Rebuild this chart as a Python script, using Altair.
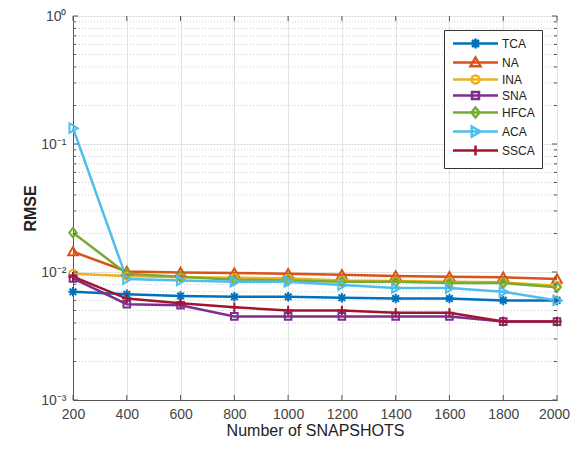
import altair as alt
import pandas as pd

snapshots = [200, 400, 600, 800, 1000, 1200, 1400, 1600, 1800, 2000]
series_names = ["TCA", "NA", "INA", "SNA", "HFCA", "ACA", "SSCA"]
TCA = [0.0070, 0.0067, 0.0065, 0.0064, 0.0064, 0.0063, 0.0062, 0.0062, 0.0060, 0.0060]
NA = [0.0144, 0.0101, 0.0099, 0.0098, 0.0097, 0.0095, 0.0093, 0.0092, 0.0091, 0.0088]
INA = [0.0097, 0.0093, 0.0091, 0.0090, 0.0089, 0.0086, 0.0085, 0.0084, 0.0083, 0.0078]
SNA = [0.0089, 0.0056, 0.0055, 0.0045, 0.0045, 0.0045, 0.0045, 0.0045, 0.0041, 0.0041]
HFCA = [0.0203, 0.0097, 0.0092, 0.0087, 0.0086, 0.0084, 0.0084, 0.0082, 0.0082, 0.0076]
ACA = [0.133, 0.0088, 0.0086, 0.0084, 0.0084, 0.0079, 0.0075, 0.0075, 0.0070, 0.0060]
SSCA = [0.0092, 0.0062, 0.0057, 0.0053, 0.0050, 0.0050, 0.0048, 0.0048, 0.0041, 0.0041]
x_ticks = [200, 400, 600, 800, 1000, 1200, 1400, 1600, 1800, 2000]
y_major = [0.001, 0.01, 0.1, 1]
y_minor = [m * 10.0 ** e for e in (-3, -2, -1) for m in range(2, 10)]

colors = ["#0072BD", "#D95319", "#EDB120", "#7E2F8E", "#77AC30", "#4DBEEE", "#A2142F"]
marker_paths = [
    "M-1,0L1,0M0,-1L0,1M-0.7,-0.7L0.7,0.7M-0.7,0.7L0.7,-0.7",
    "M0,-1L1,0.75L-1,0.75Z",
    "M0.8,0A0.8,0.8,0,1,1,-0.8,0A0.8,0.8,0,1,1,0.8,0Z",
    "M-0.7,-0.7L0.7,-0.7L0.7,0.7L-0.7,0.7Z",
    "M0,-1L0.8,0L0,1L-0.8,0Z",
    "M-0.75,-1L1,0L-0.75,1Z",
    "M-1,0L1,0M0,-1L0,1",
]
legend_paths = ["M-4.5,0L4.5,0" + p for p in marker_paths]

all_vals = [TCA, NA, INA, SNA, HFCA, ACA, SSCA]
rows = []
for name, vals in zip(series_names, all_vals):
    for s, v in zip(snapshots, vals):
        rows.append({"snapshots": s, "rmse": v, "series": name})
df = pd.DataFrame(rows)

W, H = 484, 384
font = "Liberation Sans"

xscale = alt.Scale(domain=[200, 2000], nice=False, zero=False)
yscale = alt.Scale(type="log", domain=[0.001, 1], nice=False)

def cscale():
    return alt.Scale(domain=series_names, range=colors)

base = alt.Chart(df)

lines = base.mark_line(strokeWidth=2.5).encode(
    x=alt.X("snapshots:Q", scale=xscale,
            axis=alt.Axis(values=x_ticks, title="Number of SNAPSHOTS", grid=True, format="d",
                          labelFlush=False, gridColor="#e3e3e3", ticks=False, labelPadding=7,
                          titlePadding=1, domainColor="#555",
                          labelOffset={"condition": {"test": "datum.value >= 2000", "value": -3},
                                       "value": 0})),
    y=alt.Y("rmse:Q", scale=yscale,
            axis=alt.Axis(values=y_major, title="RMSE", grid=True, gridColor="#e3e3e3",
                          ticks=False, labelPadding=7, titlePadding=2, domainColor="#555",
                          titleFontWeight="bold", labelFlush=False,
                          labelExpr="datum.value >= 0.99 ? '10⁰' : datum.value >= 0.099 ? '10⁻¹' : datum.value >= 0.0099 ? '10⁻²' : '10⁻³'")),
    color=alt.Color("series:N", scale=cscale(), legend=None),
    detail="series:N",
)

points = base.mark_point(filled=False, size=90, strokeWidth=2, opacity=1).encode(
    x=alt.X("snapshots:Q", scale=xscale),
    y=alt.Y("rmse:Q", scale=yscale),
    color=alt.Color("series:N", scale=cscale(), legend=None),
    shape=alt.Shape("series:N", scale=alt.Scale(domain=series_names, range=marker_paths), legend=None),
)

def make_legend():
    return alt.Legend(title=None, orient="none", legendX=371, legendY=14,
                      symbolSize=100, symbolStrokeWidth=2.5,
                      symbolOffset=18, labelOffset=20, padding=7,
                      rowPadding=-2, strokeColor="#333", fillColor="white",
                      labelFont=font, labelFontSize=12, labelColor="#222",
                      symbolOpacity=1,
                      labelExpr="datum.label + '             '")

legend_layer = base.transform_filter("false").mark_point(filled=False, opacity=1).encode(
    x=alt.X("snapshots:Q", scale=xscale),
    y=alt.Y("rmse:Q", scale=yscale),
    color=alt.Color("series:N", scale=cscale(), legend=make_legend()),
    shape=alt.Shape("series:N", scale=alt.Scale(domain=series_names, range=legend_paths),
                    legend=make_legend()),
)

minor_df = pd.DataFrame({"v": y_minor})
minor_grid = alt.Chart(minor_df).mark_rule(color="#cfcfcf", strokeDash=[1, 2], strokeWidth=1).encode(
    y=alt.Y("v:Q", scale=yscale),
)
minor_tick_l = alt.Chart(minor_df).mark_rule(color="#555").encode(
    y=alt.Y("v:Q", scale=yscale), x=alt.value(0), x2=alt.value(3))
minor_tick_r = alt.Chart(minor_df).mark_rule(color="#555").encode(
    y=alt.Y("v:Q", scale=yscale), x=alt.value(W - 3), x2=alt.value(W))
major_df = pd.DataFrame({"v": y_major})
major_tick_l = alt.Chart(major_df).mark_rule(color="#555").encode(
    y=alt.Y("v:Q", scale=yscale), x=alt.value(0), x2=alt.value(5))
major_tick_r = alt.Chart(major_df).mark_rule(color="#555").encode(
    y=alt.Y("v:Q", scale=yscale), x=alt.value(W - 5), x2=alt.value(W))
xt_df = pd.DataFrame({"s": x_ticks})
x_tick_b = alt.Chart(xt_df).mark_rule(color="#555").encode(
    x=alt.X("s:Q", scale=xscale), y=alt.value(H - 5), y2=alt.value(H))
x_tick_t = alt.Chart(xt_df).mark_rule(color="#555").encode(
    x=alt.X("s:Q", scale=xscale), y=alt.value(0), y2=alt.value(5))

chart = alt.layer(
    minor_grid, lines, points, minor_tick_l, minor_tick_r, major_tick_l, major_tick_r,
    x_tick_b, x_tick_t, legend_layer
).resolve_scale(
    color="independent", shape="independent"
).properties(
    width=W, height=H,
    padding={"left": 65, "top": 8, "right": 14, "bottom": 41},
    autosize=alt.AutoSizeParams(type="none"),
    background="white",
).configure_view(
    stroke="#555", strokeWidth=1
).configure_axis(
    labelFont=font, labelFontSize=14, labelColor="#444",
    titleFont=font, titleFontSize=16, titleColor="#222", titleFontWeight="normal",
)

chart.save("out.html", embed_options={"renderer": "svg", "actions": False})
